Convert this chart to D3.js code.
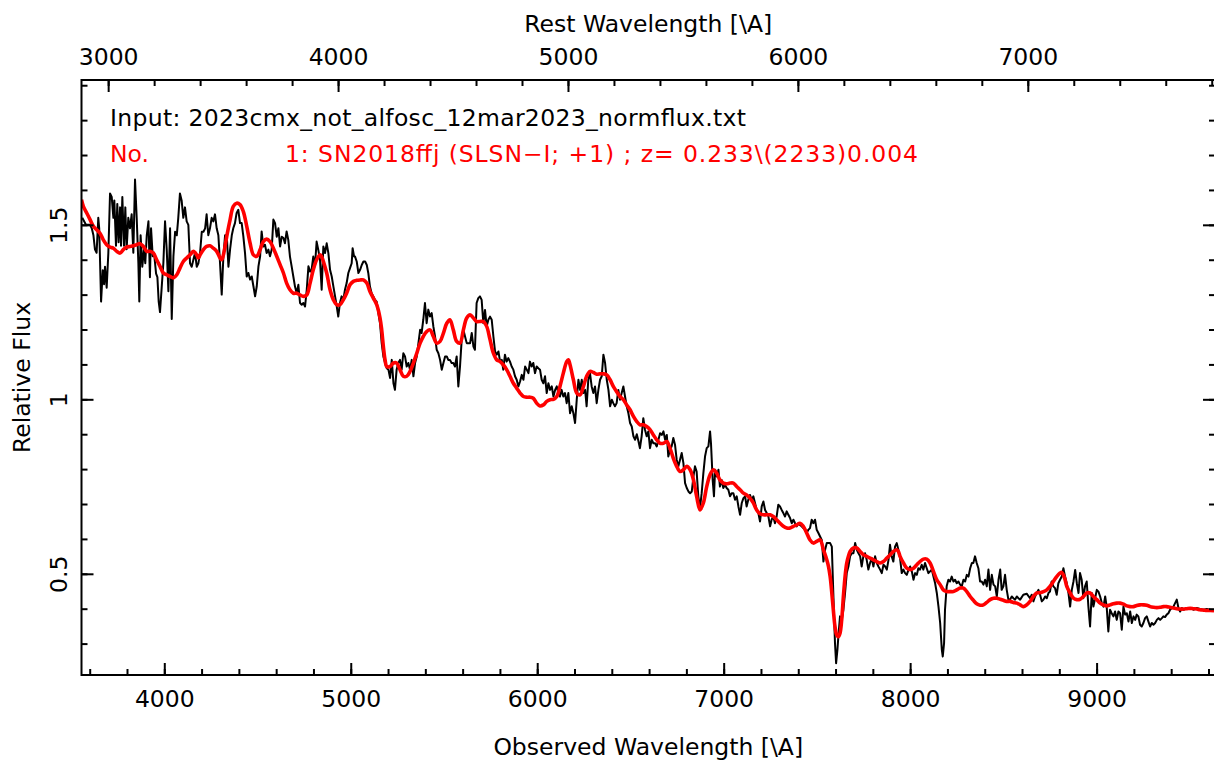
<!DOCTYPE html>
<html>
<head>
<meta charset="utf-8">
<script src="https://cdn.jsdelivr.net/npm/d3@7"></script>
<style>
  html, body { margin: 0; padding: 0; background: #fff; }
  svg { display: block; }
  text { font-family: "DejaVu Sans", sans-serif; }
</style>
</head>
<body>
<svg id="chart" width="1214" height="762"></svg>
<script>
// Observed spectrum of 2023cmx (black) and best-match SN2018ffj template (red)
const redshift = 0.233;

const obsWave = [
3560,3580,3602,3611,3620,3628,3637,3646,3651,3661,3670,3677,3682,3691,3700,3709,3718,3727,3732,3741,3748,3755,3763,3768,3775,3784,3791,3798,3807,3816,3825,3834,3843,3852,3861,3866,3873,3882,3891,3898,3906,3915,3923,3929,3938,3945,3956,3963,3970,3977,3986,3995,4004,4013,4022,4031,4040,4049,4058,4067,4075,4084,4093,4102,4111,4120,4129,4138,4147,4156,4165,4174,4183,4192,4201,4210,4219,4227,4236,4245,4254,4263,4272,4281,4290,4299,4308,4317,4326,4335,4344,4353,4362,4370,4379,4388,4397,4406,4415,4424,4433,4442,4451,4460,4469,4478,4487,4496,4505,4514,4522,4531,4540,4549,4558,4567,4576,4585,4594,
4603,4612,4621,4630,4639,4647,4656,4665,4674,4683,4692,4701,4710,4719,4728,4737,4746,4755,4764,4773,4782,4790,4799,4808,4817,4826,4835,4844,4853,4862,4871,4880,4889,4898,4907,4916,4925,4933,4942,4951,4960,4969,4978,4987,4996,5005,5010,5018,5023,5032,5041,5050,5059,5068,5077,5086,5094,5103,5112,5121,5130,5139,5148,5157,5166,5175,5184,5193,5202,5211,5220,5229,5237,5246,5255,5264,5273,5282,5291,5300,5309,5318,5327,5336,5345,5354,5363,5372,5380,5389,5398,5407,5416,5425,5434,5443,5452,5461,5470,5479,5488,5497,5506,5515,5523,5532,5541,5550,5559,5568,5577,5586,5595,5604,5613,5622,5631,5640,
5649,5658,5666,5675,5684,5693,5702,5711,5720,5729,5738,5747,5756,5765,5774,5783,5792,5801,5810,5818,5827,5836,5845,5854,5863,5872,5881,5890,5899,5908,5917,5926,5935,5944,5953,5961,5970,5979,5988,5997,6006,6015,6024,6033,6042,6051,6060,6069,6078,6087,6096,6105,6113,6122,6131,6140,6149,6158,6167,6176,6185,6194,6203,6212,6221,6230,6239,6248,6257,6265,6274,6283,6292,6301,6310,6319,6328,6337,6346,6355,6364,6373,6382,6391,6400,6408,6417,6426,6435,6444,6453,6462,6471,6480,6489,6498,6507,6516,6525,6534,6543,
6551,6560,6569,6578,6587,6596,6605,6614,6623,6632,6641,6650,6659,6668,6677,6686,6695,6703,6712,6721,6730,6739,6748,6757,6766,6775,6784,6793,6802,6811,6820,6829,6838,6846,6855,6864,6873,6882,6891,6900,6909,6918,6927,6932,6941,6948,6954,6963,6972,6980,6989,6998,7007,7016,7025,7034,7043,7052,7061,7070,7079,7088,7097,7106,7115,7123,7132,7141,7150,7159,7168,7177,7186,7195,7204,7213,7222,7231,7240,7249,7257,7266,7275,7284,7293,7302,7311,7320,7329,7338,7347,7356,7365,7374,7383,7392,7400,7409,7418,7427,7436,7445,7454,7463,7472,7481,7490,7499,7508,7517,7526,
7535,7544,7553,7562,7571,7580,7588,7597,7603,7610,7615,7624,7633,7642,7651,7660,7669,7678,7687,7696,7705,7714,7723,7732,7740,7749,7758,7767,7776,7785,7794,7803,7812,7821,7830,7839,7848,7857,7866,7875,7884,7892,7901,7910,7919,7928,7937,7946,7955,7964,7973,7982,7991,8000,8009,8018,8027,8036,8044,8053,8062,8071,8080,8089,8098,8107,8116,8125,8134,8143,8152,8161,8170,8175,8182,8187,8196,8205,8214,8223,8232,8241,8250,8259,8268,8277,8286,8295,8304,8313,8322,8331,8339,8348,8357,8366,8375,8384,8393,8402,8411,8420,8429,8438,8447,8456,8465,8474,8483,8491,8500,8509,8518,8527,8536,8545,8554,8563,8572,8581,8590,
8607,8625,8643,8652,8661,8670,8679,8688,8697,8706,8715,8724,8733,8742,8750,8759,8768,8777,8786,8795,8804,8813,8822,8831,8840,8849,8858,8867,8876,8885,8894,8903,8911,8920,8929,8938,8947,8956,8965,8974,8983,8992,9001,9010,9019,9028,9037,9046,9054,9063,9072,9081,9090,9099,9108,9117,9126,9135,9144,9153,9162,9171,9180,9189,9198,9207,9215,9224,9233,9242,9251,9260,9269,9278,9287,9296,9305,9314,9323,9332,9341,9350,9358,9367,9376,9385,9394,9403,9412,9421,9430,9439,9448,9457,9466,9484,9502,9519,9537,9555,9573,9591,9609,9630
];

const obsFlux = [
1.52,1.50,1.50,1.49,1.47,1.43,1.42,1.52,1.49,1.28,1.37,1.33,1.38,1.32,1.42,1.59,1.58,1.52,1.57,1.44,1.56,1.45,1.55,1.44,1.58,1.44,1.55,1.43,1.52,1.49,1.53,1.42,1.63,1.52,1.39,1.28,1.47,1.38,1.43,1.39,1.47,1.51,1.35,1.49,1.41,1.42,1.36,1.35,1.28,1.25,1.32,1.39,1.51,1.43,1.31,1.49,1.23,1.41,1.48,1.47,1.52,1.59,1.57,1.52,1.55,1.51,1.50,1.39,1.38,1.40,1.42,1.38,1.39,1.42,1.48,1.48,1.49,1.53,1.47,1.49,1.52,1.51,1.53,1.49,1.47,1.39,1.30,1.41,1.47,1.47,1.38,1.43,1.47,1.49,1.505,1.534,1.543,1.505,1.505,1.467,1.419,1.352,1.362,1.343,1.352,1.324,1.295,1.324,1.381,1.41,1.481,1.438,1.443,1.419,1.429,1.41,1.429,1.515,1.505,
1.466,1.490,1.438,1.466,1.462,1.447,1.481,1.457,1.409,1.381,1.352,1.323,1.304,1.328,1.276,1.271,1.276,1.266,1.314,1.381,1.366,1.371,1.409,1.381,1.452,1.428,1.400,1.314,1.438,1.419,1.447,1.419,1.371,1.352,1.323,1.295,1.266,1.237,1.276,1.295,1.285,1.314,1.333,1.362,1.376,1.390,1.433,1.409,1.409,1.395,1.362,1.371,1.385,1.395,1.395,1.385,1.362,1.323,1.304,1.295,1.285,1.280,1.247,1.218,1.161,1.123,1.104,1.089,1.085,1.061,1.113,1.046,1.027,1.085,1.104,1.113,1.085,1.132,1.123,1.094,1.104,1.085,1.113,1.066,1.104,1.123,1.161,1.199,1.190,1.228,1.276,1.218,1.257,1.237,1.247,1.209,1.180,1.142,1.132,1.113,1.085,1.104,1.123,1.123,1.113,1.113,1.104,1.104,1.094,1.123,1.037,1.094,1.171,1.199,1.180,1.161,1.161,1.161,
1.190,1.151,1.142,1.276,1.290,1.295,1.285,1.218,1.256,1.209,1.228,1.237,1.228,1.180,1.137,1.128,1.137,1.108,1.113,1.085,1.128,1.108,1.118,1.108,1.094,1.085,1.066,1.056,1.037,1.051,1.070,1.056,1.094,1.085,1.075,1.108,1.094,1.104,1.075,1.094,1.089,1.085,1.056,1.046,1.066,1.018,1.046,1.027,1.037,1.008,1.027,1.037,1.018,1.008,1.027,1.008,1.018,0.989,1.018,0.960,0.980,0.960,0.932,0.999,1.056,1.027,1.056,1.018,1.027,0.980,1.056,1.075,1.037,1.018,1.037,0.989,1.027,1.056,1.066,1.128,1.104,1.056,1.027,0.980,0.999,0.989,0.980,0.989,1.027,0.999,1.018,1.037,1.008,0.980,0.960,0.932,0.922,0.894,0.884,0.900,0.880,
0.860,0.894,0.946,0.913,0.894,0.908,0.860,0.884,0.874,0.874,0.865,0.884,0.903,0.898,0.908,0.884,0.898,0.836,0.855,0.865,0.889,0.870,0.827,0.808,0.827,0.846,0.817,0.760,0.746,0.736,0.731,0.736,0.779,0.808,0.793,0.722,0.688,0.731,0.788,0.836,0.860,0.865,0.908,0.874,0.769,0.722,0.798,0.779,0.798,0.750,0.769,0.746,0.755,0.746,0.741,0.722,0.731,0.731,0.712,0.722,0.693,0.669,0.703,0.717,0.722,0.693,0.712,0.726,0.712,0.722,0.703,0.683,0.674,0.650,0.693,0.707,0.683,0.674,0.664,0.636,0.655,0.664,0.645,0.664,0.698,0.693,0.683,0.674,0.664,0.679,0.669,0.660,0.645,0.655,0.645,0.636,0.645,0.640,0.636,0.631,0.626,0.617,0.626,0.631,0.655,0.645,0.655,0.626,0.617,0.607,0.597,
0.535,0.569,0.588,0.588,0.588,0.578,0.445,0.301,0.244,0.282,0.320,0.378,0.368,0.397,0.445,0.502,0.521,0.550,0.559,0.559,0.588,0.569,0.559,0.550,0.521,0.550,0.559,0.540,0.512,0.531,0.545,0.521,0.550,0.531,0.521,0.512,0.502,0.526,0.521,0.512,0.540,0.583,0.550,0.535,0.578,0.588,0.569,0.545,0.502,0.512,0.502,0.497,0.512,0.521,0.507,0.483,0.502,0.497,0.516,0.512,0.526,0.512,0.531,0.516,0.502,0.507,0.512,0.492,0.473,0.445,0.406,0.359,0.282,0.263,0.301,0.397,0.464,0.483,0.478,0.492,0.478,0.483,0.473,0.478,0.469,0.464,0.483,0.478,0.497,0.492,0.516,0.531,0.531,0.550,0.531,0.516,0.478,0.478,0.469,0.483,0.464,0.512,0.454,0.497,0.469,0.464,0.435,0.483,0.512,0.454,0.464,0.497,0.454,0.426,0.426,0.435,0.430,0.426,0.435,0.430,0.426,
0.440,0.443,0.430,0.440,0.421,0.435,0.445,0.454,0.440,0.421,0.426,0.435,0.430,0.445,0.449,0.478,0.464,0.459,0.440,0.473,0.483,0.492,0.516,0.492,0.473,0.445,0.406,0.454,0.478,0.511,0.473,0.445,0.502,0.483,0.430,0.464,0.478,0.406,0.349,0.445,0.406,0.430,0.454,0.449,0.435,0.416,0.406,0.435,0.406,0.335,0.397,0.387,0.378,0.392,0.368,0.392,0.387,0.340,0.406,0.383,0.387,0.363,0.392,0.359,0.378,0.368,0.383,0.378,0.354,0.349,0.359,0.373,0.378,0.363,0.349,0.359,0.354,0.359,0.368,0.373,0.368,0.373,0.378,0.376,0.383,0.387,0.397,0.402,0.406,0.416,0.426,0.402,0.392,0.402,0.397,0.402,0.402,0.397,0.402,0.399,0.397,0.399,0.397,0.395
];

const tplWave = [
3556,3566,3584,3602,3620,3637,3655,3673,3691,3709,3727,3745,3763,3780,3798,3816,3834,3852,3870,3888,3906,3923,3941,3959,3977,3995,4013,4031,4049,4067,4084,4102,4120,4138,4156,4174,4183,4192,4210,4227,4245,4263,4281,4299,4308,4317,4335,4353,4370,4388,4406,4424,4442,4460,4478,4496,4514,4531,4549,4567,4585,4603,4621,
4639,4656,4674,4692,4710,4728,4746,4764,4782,4799,4817,4835,4844,4853,4871,4889,4907,4925,4942,4960,4978,4996,5014,5032,5050,5068,5086,5103,5121,5139,5157,5166,5175,5184,5193,5211,5229,5246,5264,5282,5300,5318,5336,5354,5372,5389,5407,5425,5443,5461,5479,5497,5515,5532,5550,5568,5586,5604,5622,5640,
5658,5675,5693,5711,5729,5747,5765,5783,5801,5818,5836,5854,5872,5890,5908,5926,5944,5961,5979,5997,6015,6033,6051,6069,6087,6105,6122,6140,6158,6167,6176,6194,6212,6230,6248,6265,6283,6301,6319,6337,6355,6373,6391,6408,6426,6444,6462,6480,6498,6516,6533,6551,
6569,6587,6605,6623,6641,6659,6677,6695,6712,6730,6748,6766,6784,6802,6820,6838,6855,6873,6891,6909,6927,6945,6963,6980,6998,7016,7034,7052,7070,7088,7106,7123,7141,7159,7177,7195,7213,7231,7249,7266,7284,7302,7320,7338,7356,7374,7392,7409,7427,7445,7463,7481,7499,
7517,7535,7553,7562,7571,7580,7588,7597,7606,7615,7624,7633,7642,7651,7660,7669,7678,7696,7714,7732,7749,7767,7785,7803,7821,7839,7857,7875,7892,7910,7928,7937,7946,7964,7982,8000,8018,8036,8053,8071,8089,8107,8125,8143,8161,8178,8196,8214,8232,8250,8268,8286,8304,8322,8339,8357,8375,8393,8411,8429,8447,8465,8483,8500,8518,8536,8554,8572,8590,
8607,8625,8643,8661,8679,8697,8715,8733,8750,8768,8786,8804,8813,8822,8831,8840,8858,8876,8894,8911,8929,8947,8965,8983,9001,9019,9037,9054,9072,9090,9108,9126,9144,9162,9180,9198,9215,9233,9251,9269,9287,9305,9323,9341,9358,9376,9394,9412,9430,9448,9466,9484,9502,9519,9537,9555,9573,9591,9609,9630
];

const tplFlux = [
1.572,1.553,1.534,1.515,1.496,1.486,1.476,1.457,1.443,1.436,1.433,1.424,1.419,1.429,1.436,1.438,1.440,1.443,1.446,1.438,1.424,1.424,1.419,1.400,1.381,1.362,1.357,1.352,1.348,1.357,1.376,1.395,1.405,1.414,1.424,1.414,1.405,1.414,1.429,1.438,1.440,1.433,1.424,1.405,1.400,1.414,1.467,1.515,1.553,1.562,1.558,1.538,1.496,1.448,1.414,1.410,1.429,1.452,1.459,1.452,1.433,1.410,1.386,
1.362,1.333,1.314,1.304,1.304,1.299,1.295,1.299,1.333,1.371,1.400,1.414,1.409,1.395,1.362,1.314,1.285,1.271,1.271,1.285,1.304,1.328,1.338,1.341,1.342,1.342,1.333,1.309,1.290,1.271,1.233,1.199,1.151,1.113,1.094,1.094,1.104,1.104,1.085,1.066,1.066,1.080,1.104,1.132,1.161,1.180,1.194,1.199,1.180,1.161,1.166,1.190,1.218,1.228,1.199,1.166,1.161,1.199,1.233,1.242,
1.233,1.223,1.223,1.223,1.209,1.171,1.132,1.113,1.108,1.099,1.085,1.066,1.046,1.032,1.018,1.008,1.006,1.006,1.003,0.989,0.981,0.984,0.994,0.999,1.000,1.008,1.037,1.075,1.108,1.113,1.099,1.056,1.018,1.013,1.037,1.066,1.080,1.077,1.072,1.073,1.073,1.070,1.056,1.037,1.022,1.008,0.999,0.984,0.970,0.951,0.937,0.927,
0.927,0.922,0.913,0.898,0.884,0.874,0.874,0.879,0.860,0.831,0.808,0.793,0.798,0.808,0.798,0.769,0.722,0.683,0.703,0.750,0.784,0.798,0.788,0.769,0.760,0.758,0.760,0.760,0.750,0.741,0.731,0.726,0.717,0.703,0.683,0.672,0.669,0.669,0.669,0.664,0.655,0.645,0.636,0.631,0.631,0.636,0.640,0.645,0.636,0.617,0.597,0.588,0.593,
0.597,0.569,0.540,0.521,0.492,0.445,0.397,0.349,0.325,0.320,0.330,0.368,0.435,0.492,0.531,0.550,0.564,0.574,0.574,0.564,0.555,0.550,0.545,0.540,0.535,0.531,0.535,0.545,0.554,0.564,0.569,0.564,0.550,0.531,0.516,0.512,0.516,0.526,0.535,0.542,0.542,0.531,0.507,0.483,0.469,0.454,0.449,0.449,0.449,0.454,0.459,0.459,0.449,0.435,0.424,0.414,0.410,0.411,0.418,0.426,0.430,0.430,0.427,0.424,0.421,0.421,0.418,0.416,0.411,
0.406,0.411,0.421,0.435,0.445,0.446,0.449,0.454,0.464,0.478,0.492,0.502,0.504,0.497,0.483,0.464,0.445,0.430,0.426,0.427,0.435,0.445,0.445,0.435,0.426,0.416,0.411,0.408,0.411,0.414,0.416,0.416,0.413,0.408,0.406,0.406,0.409,0.411,0.411,0.410,0.406,0.404,0.403,0.404,0.406,0.406,0.404,0.402,0.400,0.399,0.399,0.400,0.401,0.400,0.399,0.397,0.396,0.395,0.395,0.394
];

// Axis ticks
const obsMajor = [4000, 5000, 6000, 7000, 8000, 9000];
const obsMinor = d3.range(3600, 9601, 200);
const restMajor = [3000, 4000, 5000, 6000, 7000];
const restMinor = d3.range(3000, 7801, 200);
const fluxMajor = [0.5, 1, 1.5];
const fluxMinor = d3.range(0.3, 1.91, 0.1).map(v => +v.toFixed(1));

const inputLabel = "Input: 2023cmx_not_alfosc_12mar2023_normflux.txt";
const matchNo = "No.";
const matchLabel = "1: SN2018ffj (SLSN\u2212I; +1) ; z= 0.233\\(2233)0.004";

const W = 1214, H = 762;
const frame = { left: 81.5, right: 1215, top: 80, bottom: 675 };
const obsDomain = [3556, 9635];
const fontSize = 23.5;

const svg = d3.select("#chart");
svg.append("rect").attr("width", W).attr("height", H).attr("fill", "#fff");

const x = d3.scaleLinear().domain(obsDomain).range([frame.left, frame.right]);
const xRest = d3.scaleLinear().domain(obsDomain.map(d => d / (1 + redshift))).range([frame.left, frame.right]);
const y = d3.scaleLinear().domain([0.21, 1.915]).range([frame.bottom, frame.top]);

svg.append("clipPath").attr("id", "plot-clip")
  .append("rect")
  .attr("x", frame.left).attr("y", frame.top)
  .attr("width", frame.right - frame.left).attr("height", frame.bottom - frame.top);

const plot = svg.append("g").attr("clip-path", "url(#plot-clip)");

const obsData = obsWave.map((w, i) => [w, obsFlux[i]]);
const tplData = tplWave.map((w, i) => [w, tplFlux[i]]);

plot.append("path")
  .datum(obsData)
  .attr("fill", "none")
  .attr("stroke", "#000")
  .attr("stroke-width", 2)
  .attr("stroke-linejoin", "round")
  .attr("d", d3.line().x(d => x(d[0])).y(d => y(d[1])));

plot.append("path")
  .datum(tplData)
  .attr("fill", "none")
  .attr("stroke", "#ff0000")
  .attr("stroke-width", 3.6)
  .attr("stroke-linejoin", "round")
  .attr("d", d3.line().curve(d3.curveCatmullRom).x(d => x(d[0])).y(d => y(d[1])));

// Axes with inward ticks
function styleAxis(g) {
  g.select(".domain").remove();
  g.selectAll(".tick line").attr("stroke", "#000").attr("stroke-width", 2);
  g.selectAll(".tick text").attr("fill", "#000")
    .style("font-family", '"DejaVu Sans", sans-serif').style("font-size", fontSize + "px");
}

svg.append("g").attr("transform", `translate(0,${frame.bottom})`)
  .call(d3.axisBottom(x).tickValues(obsMinor).tickSize(-6).tickFormat(""))
  .call(styleAxis);
svg.append("g").attr("transform", `translate(0,${frame.bottom})`)
  .call(d3.axisBottom(x).tickValues(obsMajor).tickSize(-12).tickPadding(15).tickFormat(d3.format("d")))
  .call(styleAxis);

svg.append("g").attr("transform", `translate(0,${frame.top})`)
  .call(d3.axisTop(xRest).tickValues(restMinor).tickSize(-6).tickFormat(""))
  .call(styleAxis);
svg.append("g").attr("transform", `translate(0,${frame.top})`)
  .call(d3.axisTop(xRest).tickValues(restMajor).tickSize(-12).tickPadding(15).tickFormat(d3.format("d")))
  .call(styleAxis);

svg.append("g").attr("transform", `translate(${frame.left},0)`)
  .call(d3.axisLeft(y).tickValues(fluxMinor).tickSize(-6).tickFormat(""))
  .call(styleAxis);
const leftMajor = svg.append("g").attr("transform", `translate(${frame.left},0)`)
  .call(d3.axisLeft(y).tickValues(fluxMajor).tickSize(-12).tickFormat(d => String(d)))
  .call(styleAxis);
leftMajor.selectAll(".tick text")
  .attr("x", null).attr("dy", null)
  .attr("text-anchor", "middle")
  .attr("transform", "translate(-14.5,0) rotate(-90)");

svg.append("g").attr("transform", `translate(${frame.right},0)`)
  .call(d3.axisRight(y).tickValues(fluxMinor).tickSize(-6).tickFormat(""))
  .call(styleAxis);
svg.append("g").attr("transform", `translate(${frame.right},0)`)
  .call(d3.axisRight(y).tickValues(fluxMajor).tickSize(-12).tickFormat(""))
  .call(styleAxis);

svg.append("rect")
  .attr("x", frame.left).attr("y", frame.top)
  .attr("width", frame.right - frame.left).attr("height", frame.bottom - frame.top)
  .attr("fill", "none").attr("stroke", "#000").attr("stroke-width", 2);

// Titles
const cx = (frame.left + frame.right) / 2;
svg.append("text").attr("x", cx).attr("y", 32).attr("text-anchor", "middle")
  .style("font-size", fontSize + "px").text("Rest Wavelength [\\A]");
svg.append("text").attr("x", cx).attr("y", 755).attr("text-anchor", "middle")
  .style("font-size", fontSize + "px").text("Observed Wavelength [\\A]");
svg.append("text")
  .attr("transform", `translate(30,${(frame.top + frame.bottom) / 2}) rotate(-90)`)
  .attr("text-anchor", "middle")
  .style("font-size", fontSize + "px").text("Relative Flux");

// Annotations
svg.append("text").attr("x", 110).attr("y", 126)
  .attr("textLength", 636).attr("lengthAdjust", "spacing")
  .style("font-size", fontSize + "px").attr("fill", "#000").text(inputLabel);
svg.append("text").attr("x", 110).attr("y", 162)
  .style("font-size", fontSize + "px").attr("fill", "#ff0000").text(matchNo);
svg.append("text").attr("x", 285).attr("y", 162)
  .attr("textLength", 633).attr("lengthAdjust", "spacing")
  .style("font-size", fontSize + "px").attr("fill", "#ff0000").text(matchLabel);
</script>
</body>
</html>
